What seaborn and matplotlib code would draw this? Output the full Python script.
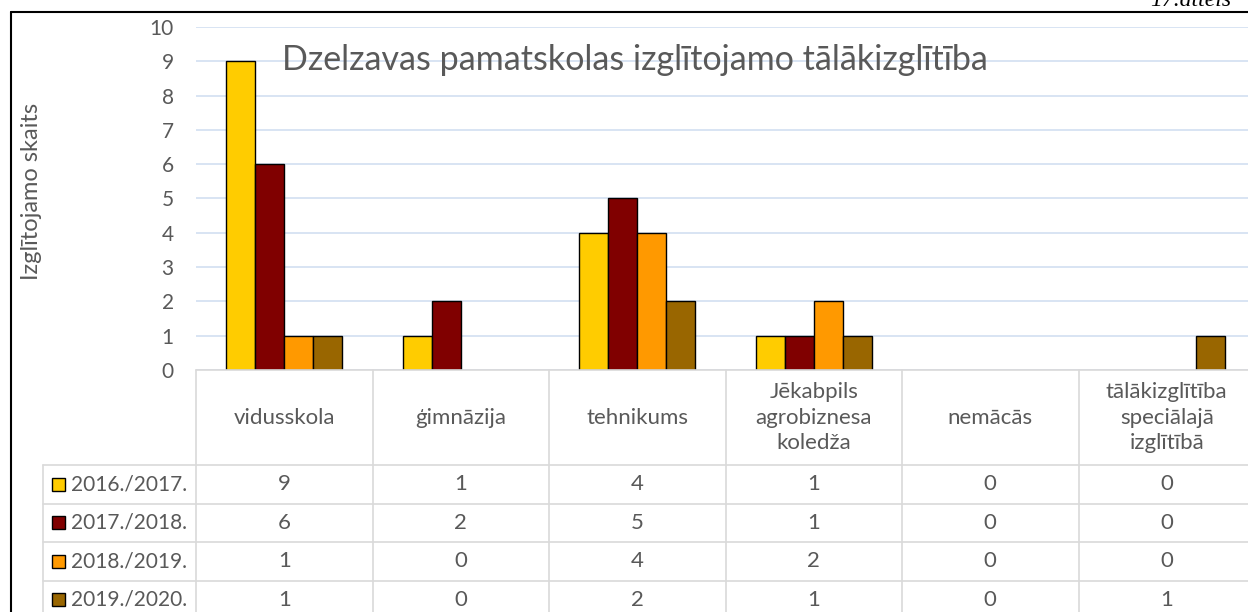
import numpy as np
import pandas as pd
import seaborn as sns
import matplotlib.pyplot as plt
from matplotlib.lines import Line2D
from matplotlib.patches import Rectangle
from matplotlib.transforms import blended_transform_factory

categories = ["vidusskola", "ģimnāzija", "tehnikums",
              "Jēkabpils\nagrobiznesa\nkoledža", "nemācās",
              "tālākizglītība\nspeciālajā\nizglītībā"]
years = ["2016./2017.", "2017./2018.", "2018./2019.", "2019./2020."]
v_2016 = [9, 1, 4, 1, 0, 0]
v_2017 = [6, 2, 5, 1, 0, 0]
v_2018 = [1, 0, 4, 2, 0, 0]
v_2019 = [1, 0, 2, 1, 0, 1]
colors = ["#FFCC00", "#800000", "#FF9900", "#996600"]
title = "Dzelzavas pamatskolas izglītojamo tālākizglītība"
ylabel = "Izglītojamo skaits"
corner_note = "17.attēls"

series = [v_2016, v_2017, v_2018, v_2019]
df = pd.DataFrame({
    "cat": categories * len(years),
    "year": np.repeat(years, len(categories)),
    "value": np.concatenate(series),
})

sns.set_style("white")
plt.rcParams['font.family'] = ['Lato', 'DejaVu Sans']
txt = "#595959"
border = "#D9D9D9"

W, H = 1248, 612
fig = plt.figure(figsize=(W / 100, H / 100), dpi=100)


def fx(px):
    return px / W


def fy(py):
    return 1 - py / H


ax = fig.add_axes([fx(196), fy(370), fx(1255) - fx(196), fy(27) - fy(370)])
sns.barplot(data=df, x="cat", y="value", hue="year", order=categories,
            hue_order=years, palette=colors, saturation=1, width=0.655,
            edgecolor="black", linewidth=1, legend=False, ax=ax)
# excel shows nothing for zero values
for p in ax.patches:
    if p.get_height() == 0:
        p.set_visible(False)

ax.set_xlim(-0.5, len(categories) - 0.5)
ax.set_ylim(0, 10)
ax.set_yticks(range(11))
ax.set_xticks([])
ax.set_xlabel("")
ax.set_ylabel("")
ax.yaxis.grid(True, color="#D5E2F2", lw=1.3)
ax.set_axisbelow(True)
for s in ax.spines.values():
    s.set_visible(False)
ax.tick_params(axis="y", length=0, pad=16, labelsize=15, labelcolor=txt)

fig.text(fx(32), fy(191), ylabel, rotation=90, ha="center", va="center",
         fontsize=17, color=txt)
fig.text(fx(635), fy(70), title, ha="center", va="baseline",
         fontsize=24.5, color=txt)
fig.text(fx(1150), fy(6), corner_note, ha="left", va="baseline",
         fontsize=17, style="italic", family="Liberation Serif", color="black")

# data table under the plot
bt = blended_transform_factory(ax.transData, fig.transFigure)
x_right = ax.get_position().x1
head_top, head_bot, row_h = 370, 465, 38.5
n = len(categories)
y_bottom = fy(head_bot + row_h * len(years))

fig.add_artist(Line2D([-0.5, n - 0.5], [fy(head_top)] * 2, transform=bt,
                      color=border, lw=1.2))
for k in range(len(years) + 1):
    yy = fy(head_bot + row_h * k)
    fig.add_artist(Line2D([fx(43), x_right], [yy, yy], color=border, lw=1.2))
fig.add_artist(Line2D([fx(43)] * 2, [fy(head_bot), y_bottom], color=border, lw=1.2))
for i in range(n + 1):
    fig.add_artist(Line2D([i - 0.5] * 2, [fy(head_top), y_bottom], transform=bt,
                          color=border, lw=1.2))

for i, cat in enumerate(categories):
    ax.text(i, fy((head_top + head_bot) / 2), cat, transform=bt, ha="center",
            va="center", linespacing=1.35, fontsize=16, color=txt)

for r, (year, vals) in enumerate(zip(years, series)):
    yc = fy(head_bot + row_h * (r + 0.5))
    fig.add_artist(Rectangle((fx(52), yc - 6.5 / H), 13 / W, 13 / H,
                             facecolor=colors[r], edgecolor="black", lw=1))
    fig.text(fx(71), yc, year, ha="left", va="center", fontsize=15, color=txt)
    for i, v in enumerate(vals):
        ax.text(i, yc, str(v), transform=bt, ha="center", va="center",
                fontsize=16, color=txt)

# outer frame
fig.add_artist(Line2D([fx(11)] * 2, [fy(12), 0], color="black", lw=1.5))
fig.add_artist(Line2D([fx(11), 1], [fy(12)] * 2, color="black", lw=1.5))

fig.savefig("out.png", dpi=100)
